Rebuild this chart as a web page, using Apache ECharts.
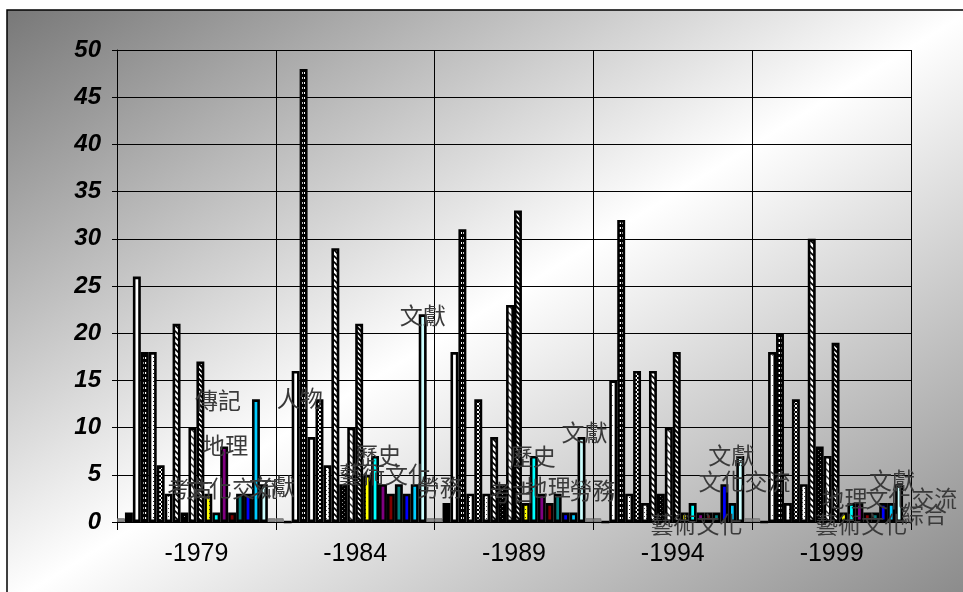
<!DOCTYPE html>
<html><head><meta charset="utf-8">
<script src="https://cdn.jsdelivr.net/npm/echarts@6/dist/echarts.min.js"></script>
<style>html,body{margin:0;padding:0;background:#fff}#c{width:963px;height:592px}</style>
</head><body><div id="c"></div>
<script>
// ---------- data ----------
const categories = ['-1979', '-1984', '-1989', '-1994', '-1999'];
const seriesNames = ['總類','哲學','人物','政治','經濟','社會','教育','語言','文學','宗教',
                     '民族','考古','歷史','地理','藝術文化','文化交流','勞務','傳記','文獻','綜合'];
const zongLei    = [0.4, 0.4, 0.4, 0.4, 0.4];
const zheXue     = [1, 0, 2, 0, 0];
const renWu      = [26, 16, 18, 15, 18];
const zhengZhi   = [18, 48, 31, 32, 20];
const jingJi     = [18, 9, 3, 3, 2];
const sheHui     = [6, 13, 13, 16, 13];
const jiaoYu     = [3, 6, 3, 2, 4];
const yuYan      = [21, 29, 9, 16, 30];
const wenXue     = [1, 4, 4, 3, 8];
const zongJiao   = [10, 10, 23, 10, 7];
const minZu      = [17, 21, 33, 18, 19];
const kaoGu      = [3, 5, 2, 1, 1];
const liShi      = [1, 7, 7, 2, 2];
const diLi       = [8, 4, 3, 1, 2];
const yiShu      = [1, 3, 2, 1, 1];
const jiaoLiu    = [3, 4, 3, 1, 1];
const laoWu      = [3, 3, 1, 4, 2];
const zhuanJi    = [13, 4, 1, 2, 2];
const wenXian    = [4, 22, 9, 7, 4];
const zongHe     = [0.4, 0.4, 0.4, 0.4, 0.4];
const seriesValues = [zongLei, zheXue, renWu, zhengZhi, jingJi, sheHui, jiaoYu, yuYan, wenXue, zongJiao,
                      minZu, kaoGu, liShi, diLi, yiShu, jiaoLiu, laoWu, zhuanJi, wenXian, zongHe];
const yMin = 0, yMax = 50, yStep = 5;

// ---------- label placement (series index, category index, pixel offset) ----------
const labelSpecs = [
  [17, 0, -38, 1], [13, 0, 1, -1], [11, 0, -18, -5], [15, 0, -8, -5], [18, 0, 8, 2],
  [2, 1, 4, 27], [12, 1, 3, -1], [18, 1, 0, 1], [14, 1, -6, -19], [16, 1, 33, -6],
  [12, 2, -1, 0], [13, 2, 6, -6], [18, 2, 3, -5], [16, 2, 27, -22], [11, 2, -14, -11],
  [18, 3, -9, -1], [14, 3, -12, 12], [15, 3, 28, -31],
  [18, 4, -7, -4], [14, 4, -6, 12], [15, 4, 36, -14], [19, 4, 17, -4], [13, 4, -15, -5]
];

// ---------- fill patterns ----------
function pat(w, h, bg, draw) {
  const c = document.createElement('canvas');
  c.width = w; c.height = h;
  const x = c.getContext('2d');
  x.fillStyle = bg; x.fillRect(0, 0, w, h);
  if (draw) draw(x, w, h);
  return { image: c, repeat: 'repeat' };
}
function dots(pts, col, sw, sh) {
  return (x) => { x.fillStyle = col; pts.forEach(p => x.fillRect(p[0], p[1], sw || 1, sh || 1)); };
}
function diag(lw, col) {
  return (x, w, h) => {
    x.strokeStyle = col; x.lineWidth = lw;
    for (let k = -1; k <= 1; k++) {
      x.beginPath(); x.moveTo(k * w - 1, -1); x.lineTo(k * w + w + 1, h + 1); x.stroke();
    }
  };
}
const fills = [
  '#8a8a8a',
  '#000000',
  pat(8, 10, '#ffffff', dots([[4, 5]], '#777')),
  pat(3, 5, '#000000', dots([[1, 2]], '#ffffff', 2, 2)),
  pat(4, 4, '#ffffff', dots([[1, 1]], '#222')),
  pat(4, 4, '#ffffff', dots([[0,0],[1,1],[2,2],[3,3],[3,0],[2,1],[1,2],[0,3]], '#000')),
  pat(4, 4, '#ffffff', dots([[0, 0], [2, 2]], '#555')),
  pat(6, 6, '#ffffff', diag(1.6, '#000')),
  pat(4, 4, '#000000', dots([[0, 0], [2, 2]], '#999')),
  pat(7, 7, '#ffffff', diag(1.4, '#333')),
  pat(5, 5, '#ffffff', diag(2, '#000')),
  pat(4, 4, '#ffff00', dots([[1, 1]], '#333')),
  '#00ffff', '#800080', '#800000', '#008080', '#0000ff', '#00ccff', '#ccffff',
  '#8a8a8a'
];

// background gradient: isolines along the anti-diagonal (corner to corner)
const bx = 7, by = 10, bw = 965, bh = 595;
const dlen = Math.sqrt(bw * bw + bh * bh);
const proj = 2 * bw * bh / dlen;
const gx2 = bx + proj * bh / dlen, gy2 = by + proj * bw / dlen;

const chart = echarts.init(document.getElementById('c'));
const series = seriesNames.map((name, si) => {
  const gray = (si === 0 || si === 19);
  const data = seriesValues[si].map((v, gi) => {
    const spec = labelSpecs.find(s => s[0] === si && s[1] === gi);
    if (!spec) return v;
    return { value: v, label: { show: true, offset: [spec[2], spec[3]] } };
  });
  return {
    name, type: 'bar', data,
    barGap: '0%', barCategoryGap: '0%',
    itemStyle: { color: fills[si], borderColor: gray ? '#7a7a7a' : '#000', borderWidth: gray ? 1 : 2.6 },
    label: {
      show: false, formatter: name, position: ['50%', 0], align: 'center', verticalAlign: 'middle',
      fontFamily: '"Noto Sans CJK TC"', fontSize: 23, color: '#3a3a3a'
    },
    emphasis: { disabled: true }
  };
});

chart.setOption({
  animation: false,
  graphic: [{
    type: 'rect', z: -10, silent: true,
    shape: { x: bx, y: by, width: bw, height: bh },
    style: {
      fill: { type: 'linear', global: true, x: bx, y: by, x2: gx2, y2: gy2, colorStops: [
        { offset: 0, color: '#787878' }, { offset: 0.5, color: '#ffffff' }, { offset: 1, color: '#888888' }] },
      stroke: '#000', lineWidth: 1.5
    }
  }],
  grid: { left: 117, right: 52, top: 50, bottom: 70, containLabel: false },
  xAxis: {
    type: 'category', data: categories, boundaryGap: true,
    axisLine: { lineStyle: { color: '#000', width: 1 } },
    axisTick: { show: true, length: 8, lineStyle: { color: '#000' } },
    splitLine: { show: true, lineStyle: { color: '#000', width: 1 } },
    axisLabel: { fontFamily: '"Liberation Sans", Arial', fontSize: 25, color: '#000', margin: 20 }
  },
  yAxis: {
    type: 'value', min: yMin, max: yMax, interval: yStep,
    axisLine: { show: true, lineStyle: { color: '#000', width: 1 } },
    axisTick: { show: true, length: 5, lineStyle: { color: '#000' } },
    splitLine: { show: true, lineStyle: { color: '#000', width: 1 } },
    axisLabel: { fontFamily: '"Liberation Sans", Arial', fontSize: 24, fontWeight: 'bold', fontStyle: 'italic', color: '#000', margin: 16 }
  },
  series
});
</script></body></html>
